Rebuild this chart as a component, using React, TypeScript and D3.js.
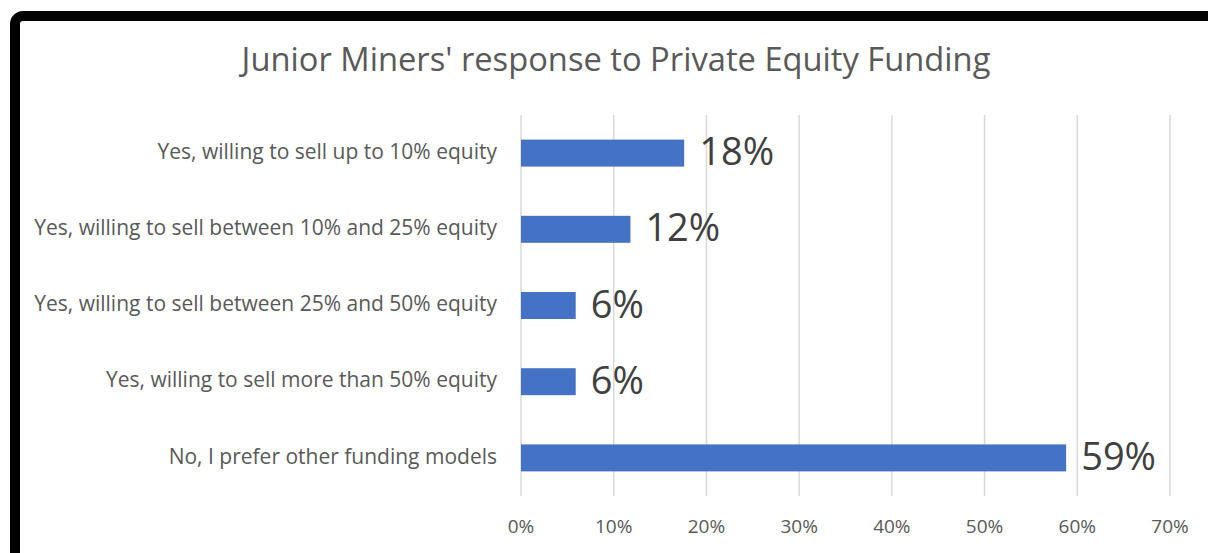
import * as d3 from 'd3';
import React from 'react';

// survey answers (share of respondents)
const categories = [
  'Yes, willing to sell up to 10% equity',
  'Yes, willing to sell between 10% and 25% equity',
  'Yes, willing to sell between 25% and 50% equity',
  'Yes, willing to sell more than 50% equity',
  'No, I prefer other funding models',
];
const values = [0.176, 0.118, 0.059, 0.059, 0.588];
const ticks = [0, 0.1, 0.2, 0.3, 0.4, 0.5, 0.6, 0.7];

const W = 1208;
const H = 553;
const FONT = '"Open Sans", "Noto Sans", sans-serif';

function App() {
  // plot area
  const x = d3.scaleLinear([0, 0.7], [521, 1170]);
  const y = d3.scaleBand(categories, [115, 496]).paddingInner(0.646).paddingOuter(0.323);
  const pct = d3.format('.0%');

  return (
    <svg width={W} height={H} style={{ position: 'absolute', left: 0, top: 0, background: '#fff' }}>
      {/* black frame, runs off the right and bottom */}
      <rect x={15} y={16} width={W + 40} height={H + 40} rx={8} fill="#fff" stroke="#000" strokeWidth={10} />

      <text x={616} y={62} textAnchor="middle" dominantBaseline="middle"
        fontFamily={FONT} fontSize={32.7} fill="#595959">
        Junior Miners' response to Private Equity Funding
      </text>

      {/* gridlines */}
      {ticks.map(t => (
        <line key={t} x1={x(t)} x2={x(t)} y1={115} y2={496} stroke="#d9d9d9" strokeWidth={1.5} />
      ))}

      {/* bars */}
      {categories.map((c, i) => (
        <g key={c}>
          <rect x={x(0)} y={y(c)} width={x(values[i]) - x(0)} height={y.bandwidth()} fill="#4472C4" />
          <text x={x(values[i]) + 15} y={y(c)! + y.bandwidth() / 2 + 2} dominantBaseline="middle"
            fontFamily={FONT} fontSize={38} fill="#404040">
            {pct(values[i])}
          </text>
          <text x={497} y={y(c)! + y.bandwidth() / 2} textAnchor="end" dominantBaseline="middle"
            fontFamily={FONT} fontSize={21} fill="#595959">
            {c}
          </text>
        </g>
      ))}

      {/* axis tick labels */}
      {ticks.map(t => (
        <text key={t} x={x(t)} y={528} textAnchor="middle" dominantBaseline="middle"
          fontFamily={FONT} fontSize={19} fill="#595959">
          {pct(t)}
        </text>
      ))}
    </svg>
  );
}

export default App;
